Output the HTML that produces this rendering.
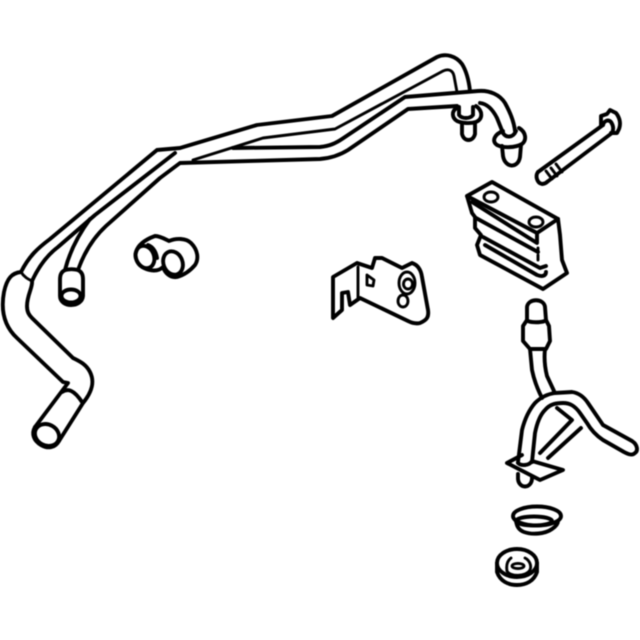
<!DOCTYPE html>
<html>
<head>
<meta charset="utf-8">
<style>
html,body{margin:0;padding:0;background:#fff;width:640px;height:640px;overflow:hidden}
svg{display:block}
path,ellipse{fill:none;stroke:#050505;stroke-width:3.9;stroke-linecap:round;stroke-linejoin:round}
.t{stroke-width:2.9}
</style>
</head>
<body>
<svg width="640" height="640" viewBox="0 0 640 640" xmlns="http://www.w3.org/2000/svg">
<defs><filter id="b" x="-5%" y="-5%" width="110%" height="110%"><feGaussianBlur stdDeviation="0.45"/></filter></defs>
<g filter="url(#b)">
<!-- long pipes -->
<path d="M21 272 C29 256 38 248 50 239 L157 150 L180 148 L257 125 L332 116 L437 57 C446 53 456 56 462 64 C467 72 469 82 470 91"/>
<path d="M32 281 C38 268 46 256 58 247 L95 215 L175 153"/>
<path d="M65 270 C69 254 76 238 90 219"/>
<path d="M78 270 C84 253 93 238 106 226 L160 178 L180 163 L320 159 C332 158 340 155 348 150 L408 109 L457 106"/>
<path d="M193 160 L263 138 L335 129 L443 71 C449 68 453 71 454 76 L457 92" class="t"/>
<path d="M233 148 L320 147 C330 146 336 143 342 139 L405 97 L478 91 C490 90 500 95 505 103 C510 112 514 122 515 131"/>
<path d="M480 103 C488 104 493 110 497 118 L503 133"/>
<!-- fittings on pipes -->
<path d="M457 108 C451 111 452 118 457 121 C461 123 470 124 476 122 C483 119 483 111 476 106"/>
<path d="M459 107 L459 115 C462 119 470 119 473 115 L473 107"/>
<path d="M462 123 L462 134 C464 142 473 142 475 134 L475 123"/>
<path d="M503 131 C495 134 491 141 497 145 C503 148 515 148 522 144 C527 140 526 132 519 128"/>
<path d="M503 133 C506 138 513 138 516 131"/>
<path d="M502 146 L503 156 C505 168 518 169 520 157 L521 145"/>
<!-- hose -->
<path d="M21 272 C12 273 7 278 4 292 C1 308 3 325 17 338 L63 382 L68 383 L35 427"/>
<path d="M32 281 C33 287 27 295 27 306 C27 312 29 315 32 318 L73 358 C79 361 86 364 90 372 C95 382 92 392 83 403 L59 441"/>
<path d="M21 272 C24 277 28 279 32 281" class="t"/>
<path d="M62 392 C68 388 74 390 82 402"/>
<ellipse cx="47" cy="435" rx="12.5" ry="10.5" transform="rotate(28 47 435)"/>
<path d="M35 427 C31 434 34 441 41 445 C48 449 55 448 59 441"/>
<!-- stub -->
<path d="M65 270 C61 272 60 275 60 280 L60 296 C60 308 82 308 83 296 L83 280 C83 275 82 272 78 270 C74 269 69 269 65 270"/>
<ellipse cx="71" cy="296" rx="9.5" ry="6.5"/>
<!-- caps -->
<path d="M136 252 C138 245 144 240 155 236 C160 236 165 239 169 241 C176 238 186 238 191 243 C198 250 199 259 195 265 C190 271 184 275 177 277 C170 278 165 273 163 267 C158 272 150 271 144 268 C138 265 134 258 136 252"/>
<ellipse cx="145" cy="257" rx="9" ry="11.5" transform="rotate(-22 145 257)"/>
<ellipse cx="173" cy="263" rx="9.5" ry="12" transform="rotate(-22 173 263)"/>
<path d="M148 245 C153 247 156 252 157 258"/>
<!-- bracket -->
<path d="M333 277 L357 263 L372 268 L375 258 L382 258 L402 268 L412 263 C418 265 421 270 422 277 L428 310 C429 317 427 320 420 323 C416 324 412 323 408 321 L360 298 L350 305 L348 292 L342 293 L342 310 L333 318 Z"/>
<path d="M358 267 L358 298" class="t"/>
<path d="M367 275 L374 280 L373 286 L367 285 Z" class="t"/>
<ellipse cx="403" cy="301" rx="5" ry="6" class="t"/>
<ellipse cx="407" cy="283" rx="8" ry="11" class="t"/>
<ellipse cx="408" cy="284" rx="4.5" ry="5" class="t"/>
<!-- clamp block -->
<path d="M467 196 L492 182 L558 219 L537 233 Z"/>
<ellipse cx="491" cy="197" rx="7" ry="5" class="t"/>
<ellipse cx="536" cy="222" rx="7" ry="5" class="t"/>
<path d="M467 196 L472 213 L475 217 L475 228 L481 235 L477 245 L480 255 L543 289 L567 273 L562 260 L560 235 L558 219"/>
<path d="M472 202 L537 243 L537 233"/>
<path d="M476 218 L538 252"/>
<path d="M483 237 L540 268 L546 266"/>
<path d="M485 245 L537 275 C542 277 546 276 546 272"/>
<path d="M538 248 L538 251 M538 255 L538 260" class="t"/>
<!-- bolt -->
<path d="M538 172 L603 125"/>
<path d="M547 182 L612 133"/>
<path d="M538 172 C535 176 537 183 542 184 C544 184 546 183 547 182"/>
<path d="M546 171 L552 179 M551 168 L557 176 M556 164 L562 172" class="t"/>
<path d="M601 126 L601 116 L607 114 L610 110 L616 113 C620 118 621 124 619 129 L617 133 L611 133"/>
<path d="M603 125 C604 121 608 119 611 122 C613 125 614 129 612 133"/>
<!-- tube assembly -->
<path d="M527 320 L527 307 C528 298 544 298 545 307 L546 320"/>
<path d="M527 320 C528 323 544 323 546 320"/>
<path d="M527 320 L523 326 L523 341 L530 349 L546 349 L550 341 L549 326 L546 320"/>
<path d="M530 349 L532 370 C534 380 538 390 542 398"/>
<path d="M545 349 C544 358 545 368 547 376 L554 391"/>
<path d="M518 462 L522 430 C525 418 529 410 535 403 C541 397 548 394 555 393 L572 392 C579 393 584 397 588 403 L603 425 L632 441 C638 445 638 451 635 453 C632 456 628 454 624 452 L603 440 C597 436 591 430 587 423 L580 413 C575 406 570 403 563 403 C556 403 550 404 545 410 C540 415 537 423 535 433 L532 462"/>
<path d="M557 408 L572 420 L540 453"/>
<path d="M581 428 L548 458"/>
<path d="M507 463 L522 455 M518 463 C521 466 529 466 532 461 M532 461 L563 470 L540 480 L507 463"/>
<path d="M518 474 L518 479 C519 489 531 489 532 479 L532 477"/>
<!-- ring -->
<ellipse cx="537" cy="516" rx="24" ry="9.5"/>
<ellipse cx="534" cy="521" rx="18" ry="4.5"/>
<path d="M516 521 C517 527 519 530 524 532 C532 535 545 534 552 529 C555 527 558 524 558 521"/>
<!-- grommet -->
<ellipse cx="517" cy="563" rx="20" ry="14"/>
<path d="M497 563 L497 572 C500 581 508 585 517 585 C526 585 534 581 537 572 L537 563"/>
<path d="M507 571 C510 577 526 577 530 570 C532 565 529 560 525 558 M511 558 C507 561 506 565 507 571" class="t"/>
<ellipse cx="518" cy="566" rx="6" ry="2.6" class="t"/>
</g>
</svg>
</body>
</html>
